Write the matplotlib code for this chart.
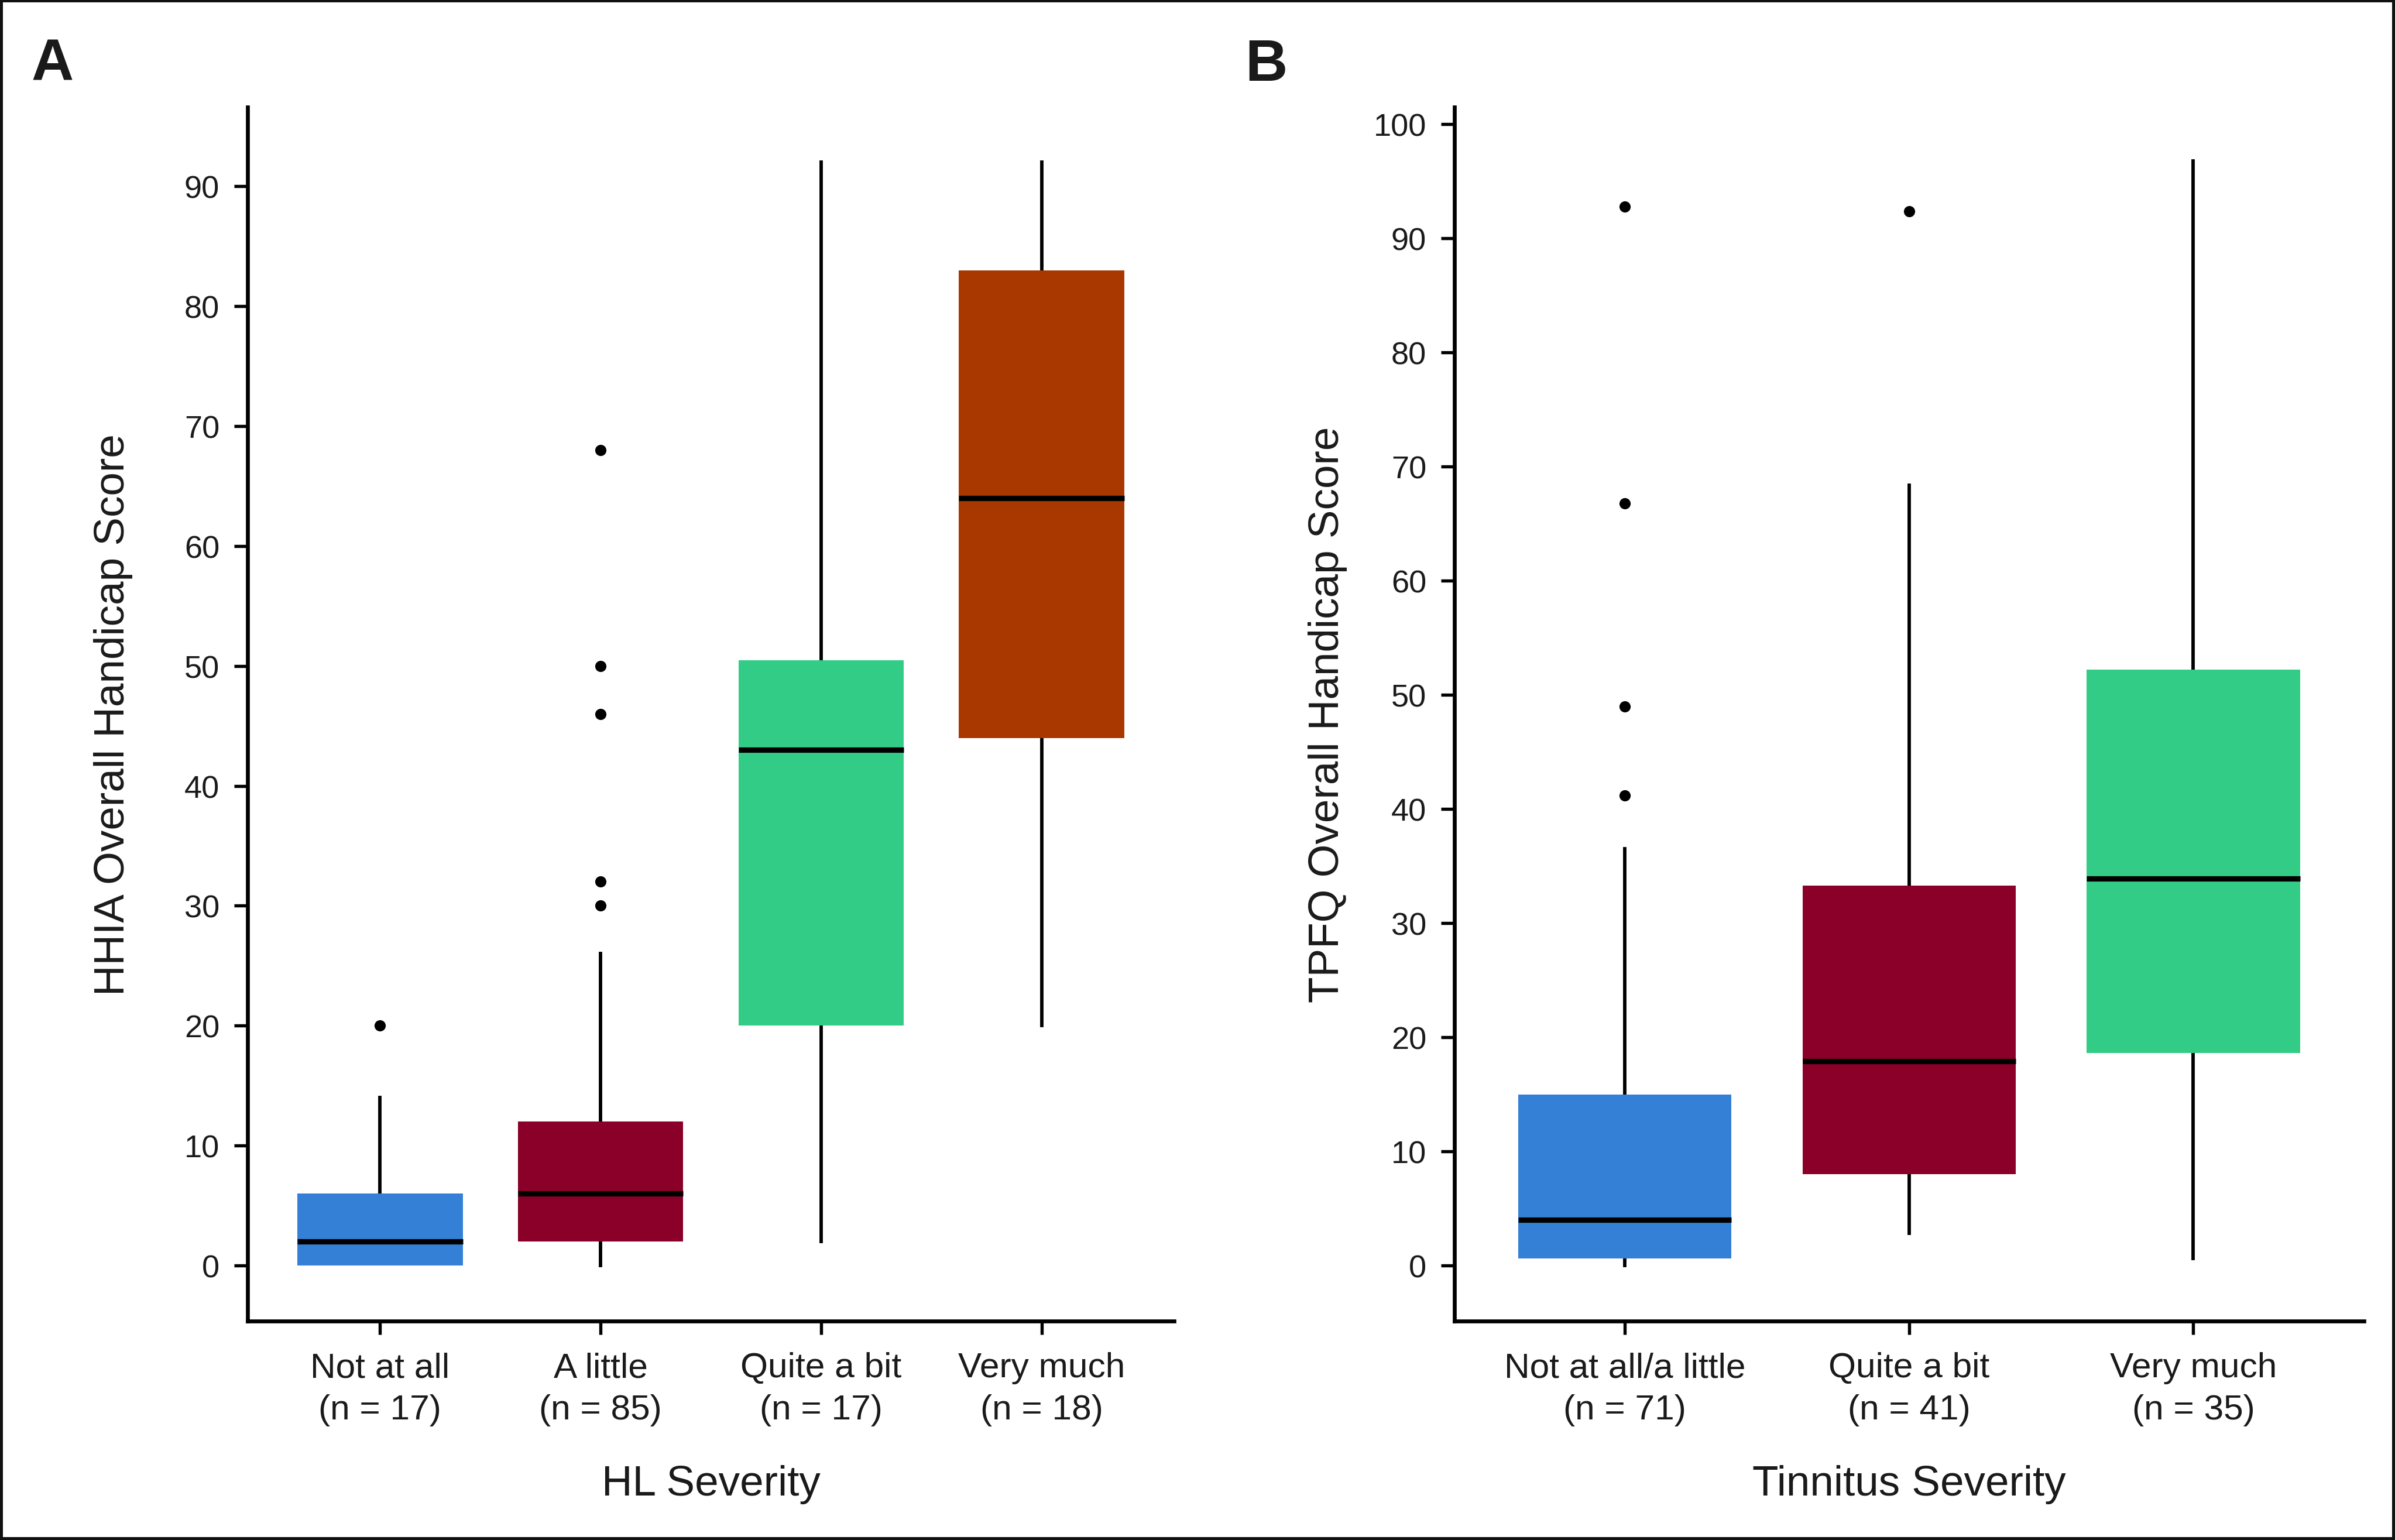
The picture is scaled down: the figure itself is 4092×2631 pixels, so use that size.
import matplotlib
matplotlib.use('Agg')
import matplotlib.pyplot as plt
from matplotlib.patches import Rectangle

plt.rcParams['font.family'] = ['Liberation Sans', 'DejaVu Sans']

# ---- data ----
hl_labels = ['Not at all\n(n = 17)', 'A little\n(n = 85)', 'Quite a bit\n(n = 17)', 'Very much\n(n = 18)']
hl_whislo = [0, 0, 2, 20]
hl_q1 = [0, 2, 20, 44]
hl_med = [2, 6, 43, 64]
hl_q3 = [6, 12, 50.5, 83]
hl_whishi = [14, 26, 92, 92]
hl_fliers = [[20], [30, 32, 46, 50, 68], [], []]
hl_colors = ['#3480d6', '#8a0028', '#32cc86', '#a83700']

tin_labels = ['Not at all/a little\n(n = 71)', 'Quite a bit\n(n = 41)', 'Very much\n(n = 35)']
tin_whislo = [0, 2.8, 0.6]
tin_q1 = [0.6, 8, 18.6]
tin_med = [4, 17.9, 33.9]
tin_q3 = [15, 33.3, 52.2]
tin_whishi = [36.5, 68.4, 96.8]
tin_fliers = [[41.2, 49, 66.8, 92.8], [92.4], []]
tin_colors = ['#3480d6', '#8a0028', '#32cc86']

txt = '#1a1a1a'


def make_stats(whislo, q1, med, q3, whishi, fliers):
    return [dict(whislo=a, q1=b, med=c, q3=d, whishi=e, fliers=f)
            for a, b, c, d, e, f in zip(whislo, q1, med, q3, whishi, fliers)]


def draw_panel(ax, stats, colors, labels, yticks, ylim, xlabel, ylabel, ylab_x):
    bp = ax.bxp(stats, positions=range(1, len(stats) + 1), widths=0.75, patch_artist=True,
                showcaps=False,
                boxprops=dict(linewidth=0),
                whiskerprops=dict(color='black', linewidth=1.4),
                medianprops=dict(color='black', linewidth=2.2),
                flierprops=dict(marker='o', markerfacecolor='black', markeredgecolor='black',
                                markersize=3.6, linestyle='none'))
    for patch, c in zip(bp['boxes'], colors):
        patch.set_facecolor(c)
        patch.set_edgecolor(c)
    for w in bp['whiskers']:
        w.set_zorder(1)
    ax.set_xlim(0.4, len(stats) + 0.6)
    ax.set_ylim(*ylim)
    ax.set_yticks(yticks)
    ax.set_xticks(range(1, len(stats) + 1))
    ax.set_xticklabels(labels, fontsize=14.5, color=txt, linespacing=1.4)
    ax.tick_params(axis='y', labelsize=13, labelcolor=txt, length=5.5, width=1.3, pad=6)
    ax.tick_params(axis='x', length=5.5, width=1.3, pad=7)
    for s in ['top', 'right']:
        ax.spines[s].set_visible(False)
    for s in ['left', 'bottom']:
        ax.spines[s].set_linewidth(1.6)
    ax.set_xlabel(xlabel, fontsize=17.5, color=txt)
    ax.set_ylabel(ylabel, fontsize=17.5, color=txt)
    ax.xaxis.set_label_coords(0.5, -0.118)
    ax.yaxis.set_label_coords(ylab_x, 0.5)


fig = plt.figure(figsize=(13.64, 8.7733), dpi=300)

axA = fig.add_axes([0.1034, 0.1421, 0.4902 - 0.1034, 0.930 - 0.1421])
draw_panel(axA, make_stats(hl_whislo, hl_q1, hl_med, hl_q3, hl_whishi, hl_fliers), hl_colors,
           hl_labels, range(0, 91, 10), (-4.64, 96.6), 'HL Severity',
           'HHIA Overall Handicap Score', -0.124)

axB = fig.add_axes([0.6073, 0.1421, 0.9870 - 0.6073, 0.930 - 0.1421])
draw_panel(axB, make_stats(tin_whislo, tin_q1, tin_med, tin_q3, tin_whishi, tin_fliers), tin_colors,
           tin_labels, range(0, 101, 10), (-4.87, 101.5), 'Tinnitus Severity',
           'TPFQ Overall Handicap Score', -0.118)

fig.text(0.0132, 0.9476, 'A', fontsize=24, fontweight='bold', color=txt, ha='left', va='baseline')
fig.text(0.5198, 0.9476, 'B', fontsize=24, fontweight='bold', color=txt, ha='left', va='baseline')

fig.patches.append(Rectangle((0, 0), 1, 1, transform=fig.transFigure, fill=False,
                             edgecolor='#111111', linewidth=2.4, zorder=10))

fig.savefig('out.png', dpi=300)
